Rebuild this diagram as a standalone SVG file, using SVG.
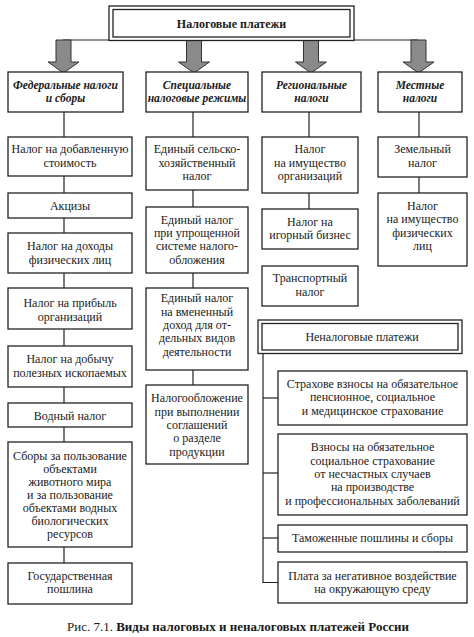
<svg xmlns="http://www.w3.org/2000/svg" width="474" height="637" viewBox="0 0 474 637">
<style>
.bx{fill:#fff;stroke:#222;stroke-width:1.3}
.ln{fill:none;stroke:#222;stroke-width:1.2}
.ar{fill:#8a8a8a;stroke:#333;stroke-width:1}
text{font-family:'Liberation Serif','DejaVu Serif','Times New Roman',serif;font-size:12px;fill:#1a1a1a;text-anchor:middle}
.h{font-weight:bold;font-style:italic;font-size:11.5px}
.b{font-weight:bold}
</style>
<rect width="474" height="637" fill="#fff"/>
<g id="connectors">
<line class="ln" x1="63" y1="40" x2="418" y2="40"/>
<path class="ar" d="M56,40 H71 V62 H79 L63.5,73 L48,62 H56 Z"/>
<path class="ar" d="M186.5,40 H201.5 V62 H209.5 L194,73 L178.5,62 H186.5 Z"/>
<path class="ar" d="M303.5,40 H318.5 V62 H326.5 L311,73 L295.5,62 H303.5 Z"/>
<path class="ar" d="M411,40 H426 V62 H434 L418.5,73 L403,62 H411 Z"/>
<line class="ln" x1="64" y1="112" x2="64" y2="563"/>
<line class="ln" x1="193" y1="112" x2="193" y2="385"/>
<line class="ln" x1="309" y1="112" x2="309" y2="209"/>
<line class="ln" x1="419" y1="112" x2="419" y2="193"/>
<path class="ln" d="M263,353 V582.5 H278"/>
<line class="ln" x1="263" y1="398" x2="278" y2="398"/>
<line class="ln" x1="263" y1="473" x2="278" y2="473"/>
<line class="ln" x1="263" y1="538" x2="278" y2="538"/>
</g>
<g id="root">
<rect class="bx" x="109" y="6" width="245" height="34.5"/>
<rect class="bx" x="113" y="9.5" width="237" height="27.5"/>
<text class="b" x="231.5" y="28">Налоговые платежи</text>
</g>
<g id="federal">
<rect class="bx" x="8" y="72" width="115" height="40"/>
<text class="h" x="65.5" y="89">Федеральные налоги</text>
<text class="h" x="65.5" y="102">и сборы</text>
</g>
<g id="special">
<rect class="bx" x="146" y="72" width="102" height="40"/>
<text class="h" x="197" y="89">Специальные</text>
<text class="h" x="197" y="102">налоговые режимы</text>
</g>
<g id="regional">
<rect class="bx" x="262" y="72" width="99" height="40"/>
<text class="h" x="311.5" y="89">Региональные</text>
<text class="h" x="311.5" y="102">налоги</text>
</g>
<g id="local">
<rect class="bx" x="378" y="72" width="84" height="40"/>
<text class="h" x="420" y="89">Местные</text>
<text class="h" x="420" y="102">налоги</text>
</g>
<g id="f1">
<rect class="bx" x="8" y="137" width="124" height="39"/>
<text x="70" y="153">Налог на добавленную</text>
<text x="70" y="167">стоимость</text>
</g>
<g id="f2">
<rect class="bx" x="8" y="193" width="124" height="25"/>
<text x="70" y="210">Акцизы</text>
</g>
<g id="f3">
<rect class="bx" x="8" y="233" width="124" height="40"/>
<text x="70" y="250">Налог на доходы</text>
<text x="70" y="263.5">физических лиц</text>
</g>
<g id="f4">
<rect class="bx" x="8" y="288" width="124" height="41"/>
<text x="70" y="307">Налог на прибыль</text>
<text x="70" y="321">организаций</text>
</g>
<g id="f5">
<rect class="bx" x="8" y="346" width="124" height="41"/>
<text x="70" y="363">Налог на добычу</text>
<text x="70" y="377">полезных ископаемых</text>
</g>
<g id="f6">
<rect class="bx" x="8" y="403" width="124" height="24"/>
<text x="70" y="420">Водный налог</text>
</g>
<g id="f7">
<rect class="bx" x="8" y="442" width="124" height="105"/>
<text x="70" y="460">Сборы за пользование</text>
<text x="70" y="473">объектами</text>
<text x="70" y="486">животного мира</text>
<text x="70" y="499">и за пользование</text>
<text x="70" y="512">объектами водных</text>
<text x="70" y="525">биологических</text>
<text x="70" y="538">ресурсов</text>
</g>
<g id="f8">
<rect class="bx" x="8" y="563" width="124" height="41"/>
<text x="70" y="580">Государственная</text>
<text x="70" y="593">пошлина</text>
</g>
<g id="s1">
<rect class="bx" x="146" y="137" width="102" height="53"/>
<text x="197" y="153">Единый сельско-</text>
<text x="197" y="166.5">хозяйственный</text>
<text x="197" y="180">налог</text>
</g>
<g id="s2">
<rect class="bx" x="146" y="207" width="102" height="66"/>
<text x="197" y="224">Единый налог</text>
<text x="197" y="237">при упрощенной</text>
<text x="197" y="250">системе налого-</text>
<text x="197" y="264">обложения</text>
</g>
<g id="s3">
<rect class="bx" x="146" y="288" width="102" height="82"/>
<text x="197" y="302">Единый налог</text>
<text x="197" y="315.5">на вмененный</text>
<text x="197" y="329">доход для от-</text>
<text x="197" y="342">дельных видов</text>
<text x="197" y="355.5">деятельности</text>
</g>
<g id="s4">
<rect class="bx" x="146" y="385" width="102" height="79"/>
<text x="197" y="402">Налогообложение</text>
<text x="197" y="415.5">при выполнении</text>
<text x="197" y="429">соглашений</text>
<text x="197" y="442">о разделе</text>
<text x="197" y="456">продукции</text>
</g>
<g id="r1">
<rect class="bx" x="262" y="137" width="96" height="56"/>
<text x="310" y="153">Налог</text>
<text x="310" y="166.5">на имущество</text>
<text x="310" y="180">организаций</text>
</g>
<g id="r2">
<rect class="bx" x="262" y="209" width="96" height="40"/>
<text x="310" y="226">Налог на</text>
<text x="310" y="239">игорный бизнес</text>
</g>
<g id="r3">
<rect class="bx" x="262" y="266" width="96" height="40"/>
<text x="310" y="282">Транспортный</text>
<text x="310" y="296">налог</text>
</g>
<g id="l1">
<rect class="bx" x="378" y="137" width="89" height="40"/>
<text x="422.5" y="153">Земельный</text>
<text x="422.5" y="167">налог</text>
</g>
<g id="l2">
<rect class="bx" x="378" y="193" width="89" height="73"/>
<text x="422.5" y="210">Налог</text>
<text x="422.5" y="223">на имущество</text>
<text x="422.5" y="237">физических</text>
<text x="422.5" y="250">лиц</text>
</g>
<g id="nontax">
<rect class="bx" x="258" y="320" width="204" height="33.5"/>
<rect class="bx" x="262" y="323.5" width="196" height="26.5"/>
<text x="362" y="341">Неналоговые платежи</text>
</g>
<g id="n1">
<rect class="bx" x="278" y="371" width="189" height="54"/>
<text x="372.5" y="388">Страхове взносы на обязательное</text>
<text x="372.5" y="401">пенсионное, социальное</text>
<text x="372.5" y="415">и медицинское страхование</text>
</g>
<g id="n2">
<rect class="bx" x="278" y="434" width="189" height="81"/>
<text x="372.5" y="451">Взносы на обязательное</text>
<text x="372.5" y="464.5">социальное страхование</text>
<text x="372.5" y="478">от несчастных случаев</text>
<text x="372.5" y="491">на производстве</text>
<text x="372.5" y="505">и профессиональных заболеваний</text>
</g>
<g id="n3">
<rect class="bx" x="278" y="525" width="189" height="27"/>
<text x="372.5" y="542">Таможенные пошлины и сборы</text>
</g>
<g id="n4">
<rect class="bx" x="278" y="562" width="189" height="41"/>
<text x="372.5" y="580">Плата за негативное воздействие</text>
<text x="372.5" y="593">на окружающую среду</text>
</g>
<g id="caption">
<text x="238" y="631" style="font-size:13px">Рис. 7.1. <tspan class="b">Виды налоговых и неналоговых платежей России</tspan></text>
</g>
</svg>
